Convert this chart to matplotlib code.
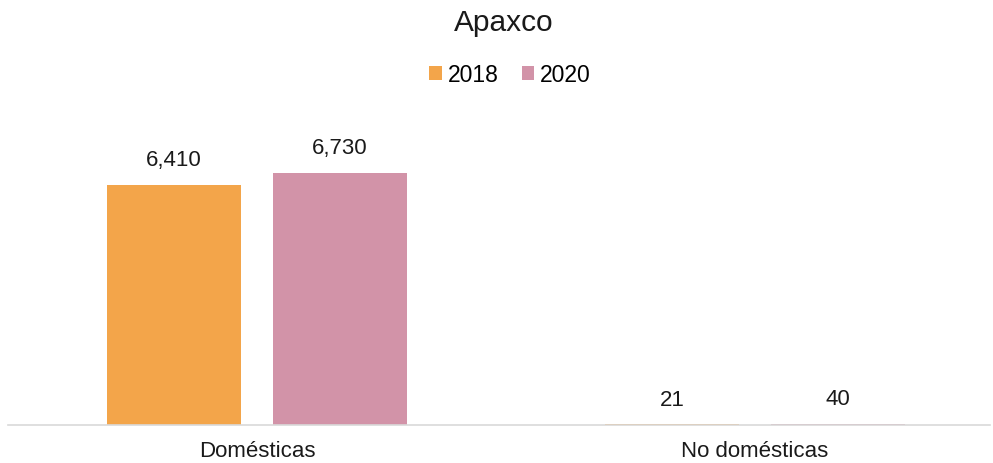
import matplotlib.pyplot as plt
import numpy as np

plt.rcParams['font.family'] = ['Liberation Sans', 'DejaVu Sans']

categories = ['Domésticas', 'No domésticas']
years = ['2018', '2020']
values_2018 = [6410, 21]
values_2020 = [6730, 40]
colors = ['#F3A54A', '#D293A8']

fig = plt.figure(figsize=(9.93, 4.64), dpi=100)
ax = fig.add_axes([8 / 993, 38 / 464, 982 / 993, 300 / 464])

x = np.arange(len(categories))
w = 0.269
off = 0.1667
series = [values_2018, values_2020]
for i, (yr, vals) in enumerate(zip(years, series)):
    xs = x + (i * 2 - 1) * off
    bars = ax.bar(xs, vals, width=w, color=colors[i], label=yr)
    for b, v in zip(bars, vals):
        ax.annotate(f'{v:,}', (b.get_x() + b.get_width() / 2, v),
                    xytext=(0, 10.5), textcoords='offset points',
                    ha='center', va='bottom', fontsize=16, color='#1a1a1a')

ax.set_xlim(-0.5, 1.472)
ax.set_ylim(0, 8000)
ax.set_xticks(x)
ax.set_xticklabels(categories, fontsize=16, color='#1a1a1a')
ax.tick_params(axis='x', length=0, pad=11)
ax.set_yticks([])
for s in ['top', 'right', 'left']:
    ax.spines[s].set_visible(False)
ax.spines['bottom'].set_color('#d9d9d9')
ax.spines['bottom'].set_linewidth(1.2)

fig.text(504 / 993, 1 - 23 / 464, 'Apaxco', ha='center', va='center', fontsize=21.5, color='#1a1a1a')
fig.legend(loc='center', bbox_to_anchor=(510 / 993, 1 - 76 / 464), ncol=2, frameon=False,
           fontsize=16.5, handlelength=0.55, handleheight=0.55, handletextpad=0.25, columnspacing=1.0)

fig.savefig('out.png')
